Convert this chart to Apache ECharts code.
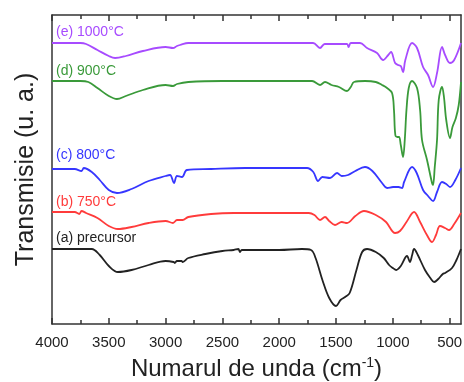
<!DOCTYPE html>
<html><head><meta charset="utf-8">
<script src="https://cdn.jsdelivr.net/npm/echarts@6/dist/echarts.min.js"></script>
<style>html,body{margin:0;padding:0;background:#fff}#c{width:464px;height:382px}</style>
</head><body><div id="c"></div>
<script>
// Wavenumber (cm^-1) and offset transmittance (arbitrary units)
const precursorW = [4000,3800,3650,3580,3500,3420,3300,3150,3000,2930,2920,2900,2860,2850,2800,2650,2500,2400,2360,2345,2330,2200,2000,1800,1720,1680,1620,1560,1500,1460,1420,1380,1320,1270,1227,1150,1080,1033,1000,970,930,875,850,830,813,780,717,670,637,600,560,540,479,440,400];
const precursorT = [75,75,75,69,58,52,54,59,63,62,61,63,63,62,66,70,73,74,75,72,74,74,74,75,74,66,44,26,18,24,27,31,54,72,75,72,66,59,56,54,58,68,62,69,75,69,54,46,42,45,50,51,56,64,75];

const t750W = [4000,3800,3760,3740,3700,3600,3500,3420,3300,3150,3000,2935,2900,2850,2800,2600,2400,2000,1740,1690,1641,1597,1560,1509,1450,1403,1330,1254,1150,1060,980,937,880,813,760,700,655,620,585,540,505,460,400];
const t750T = [112,112,110,113,111,106,98,95,97,101,103,101,104,104,107,110,111,111,111,109,104,107,103,99,102,101,108,113,109,102,91,93,102,112,102,89,82,89,98,96,94,100,111];

const t800W = [4000,3800,3740,3720,3650,3580,3500,3428,3300,3150,3000,2961,2926,2900,2856,2812,2600,2300,2000,1755,1700,1658,1620,1553,1491,1450,1394,1330,1245,1180,1095,1051,998,950,919,901,831,790,734,690,646,611,567,530,497,450,400];
const t800T = [155,155,153,156,152,144,134,131,135,143,148,149,141,148,147,154,155,156,156,156,152,143,147,146,151,148,149,153,157,153,141,136,137,137,136,142,157,151,134,128,123,132,142,140,137,144,156];

const t900W = [4000,3750,3680,3600,3500,3428,3350,3200,3000,2935,2900,2800,2500,2000,1711,1641,1597,1540,1474,1403,1370,1342,1245,1150,1095,1051,1007,990,978,960,945,930,910,895,880,860,831,787,760,743,699,655,646,631,611,596,567,550,530,497,475,445,420,400];
const t900T = [243,243,242,236,228,225,228,234,239,238,240,242,243,243,243,239,242,239,237,233,237,242,243,242,239,236,231,214,189,187,187,179,167,184,214,236,243,236,214,184,164,141,139,157,184,224,237,227,204,186,197,206,219,242];

const t1000W = [4000,3750,3700,3600,3500,3445,3350,3200,3000,2935,2900,2873,2800,2000,1702,1641,1600,1403,1390,1370,1289,1227,1139,1086,1040,1016,980,954,930,910,890,831,787,734,690,646,611,567,540,497,460,400];
const t1000T = [281,281,280,274,268,266,268,273,277,276,278,279,281,281,281,276,280,280,277,281,281,276,271,264,269,272,261,259,258,252,264,281,276,257,249,237,251,277,269,261,264,281];

const xTickLabels = [4000,3500,3000,2500,2000,1500,1000,500];
const xMinorTicks = [3750,3250,2750,2250,1750,1250,750];
const seriesNames = ['(a) precursor','(b) 750°C','(c) 800°C','(d) 900°C','(e) 1000°C'];
const seriesColors = ['#222222','#ff3b3b','#3636ff','#3a9a3a','#a74bff'];

function pairs(w,t){return w.map((v,i)=>[v,t[i]]);}
const allData = [pairs(precursorW,precursorT),pairs(t750W,t750T),pairs(t800W,t800T),pairs(t900W,t900T),pairs(t1000W,t1000T)];

const chart = echarts.init(document.getElementById('c'));
const axisLine = {show:true,lineStyle:{color:'#333',width:1.5}};
const baseX = {type:'value',min:400,max:4000,inverse:true,splitLine:{show:false}};
chart.setOption({
  animation:false,
  grid:{left:52,right:3,top:15,bottom:58,containLabel:false,outerBoundsMode:'none'},
  xAxis:[
    Object.assign({},baseX,{position:'bottom',axisLine:axisLine,
      axisTick:{show:true,inside:true,length:6,customValues:xTickLabels,lineStyle:{color:'#333',width:1.5}},
      axisLabel:{customValues:xTickLabels,formatter:v=>String(v),fontFamily:'Liberation Sans',fontSize:15,color:'#222',margin:11},
      name:'Numarul de unda (cm{s|-1})',nameLocation:'middle',nameGap:32,
      nameTextStyle:{fontFamily:'Liberation Sans',fontSize:24,color:'#222',rich:{s:{fontSize:14,verticalAlign:'top',padding:[0,0,12,0],fontFamily:'Liberation Sans',color:'#222'}}}}),
    Object.assign({},baseX,{position:'bottom',axisLine:{show:false},
      axisTick:{show:true,inside:true,length:4,customValues:xMinorTicks,lineStyle:{color:'#333',width:1.5}},
      axisLabel:{show:false}}),
    Object.assign({},baseX,{position:'top',axisLine:axisLine,
      axisTick:{show:true,inside:true,length:6,customValues:xTickLabels,lineStyle:{color:'#333',width:1.5}},
      axisLabel:{show:false}}),
    Object.assign({},baseX,{position:'top',axisLine:{show:false},
      axisTick:{show:true,inside:true,length:4,customValues:xMinorTicks,lineStyle:{color:'#333',width:1.5}},
      axisLabel:{show:false}})
  ],
  yAxis:[
    {type:'value',min:0,max:309,position:'left',axisLine:axisLine,axisTick:{show:false},axisLabel:{show:false},splitLine:{show:false},
     name:'Transmisie (u. a.)',nameLocation:'middle',nameGap:13,
     nameTextStyle:{fontFamily:'Liberation Sans',fontSize:25,color:'#222'}},
    {type:'value',min:0,max:309,position:'right',axisLine:axisLine,axisTick:{show:false},axisLabel:{show:false},splitLine:{show:false}}
  ],
  series: allData.map((d,i)=>({
    type:'line',name:seriesNames[i],data:d,xAxisIndex:0,yAxisIndex:0,
    showSymbol:false,smooth:0.35,lineStyle:{color:seriesColors[i],width:1.8},itemStyle:{color:seriesColors[i]}
  }))
});
// curve labels placed just above each curve's starting value
const labelOffsets = [10,9,13,9,10];
const g = allData.map((d,i)=>{
  const p = chart.convertToPixel({xAxisIndex:0,yAxisIndex:0},d[0]);
  return {type:'text',left:56,top:p[1]-labelOffsets[i]-8,
    style:{text:seriesNames[i],fill:seriesColors[i],font:'14px "Liberation Sans"'}};
});
chart.setOption({graphic:g});
</script></body></html>
